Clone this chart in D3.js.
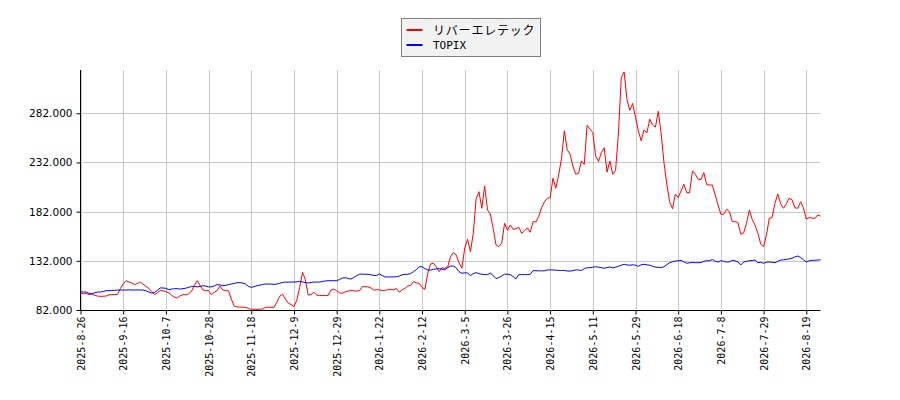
<!DOCTYPE html>
<html><head><meta charset="utf-8">
<script src="https://cdn.jsdelivr.net/npm/d3@7/dist/d3.min.js"></script>
<style>
html,body{margin:0;padding:0;background:#fff;}
svg{display:block;}
</style></head>
<body>
<svg id="chart" width="900" height="400"></svg>
<script>
const seriesNames = ["リバーエレテック", "TOPIX"];
const tickLabels = ["2025-8-26","2025-9-16","2025-10-7","2025-10-28","2025-11-18","2025-12-9","2025-12-29","2026-1-22","2026-2-12","2026-3-5","2026-3-26","2026-4-15","2026-5-11","2026-5-29","2026-6-18","2026-7-8","2026-7-29","2026-8-19"];
const tickIndex = [0,15,30,45,60,75,90,105,120,135,150,165,180,195,210,225,240,255];
const yTicks = [82,132,182,232,282];

const riverValues = [
99.3,98.5,98.8,97.6,98.3,96.8,96.2,95.8,96.0,96.2,
97.4,97.6,97.6,97.8,103.7,108.5,111.8,110.5,109.5,107.8,
109.0,110.5,108.2,106.0,103.7,101.0,97.6,99.5,101.7,101.5,
100.6,99.5,97.0,95.0,94.2,96.5,97.6,97.4,98.5,101.0,
107.0,111.8,107.0,102.5,101.7,101.7,97.6,100.0,101.7,106.4,
102.5,101.7,101.5,93.0,86.0,85.0,85.0,84.8,84.7,83.5,
82.7,82.8,82.5,82.8,83.0,84.7,84.8,84.7,84.8,90.0,
96.0,98.0,93.0,89.0,87.5,85.4,92.0,105.0,120.3,113.0,
97.2,97.8,100.0,97.2,96.6,96.8,96.6,96.8,102.3,103.3,
101.5,99.5,99.0,100.5,101.0,102.0,101.5,101.3,101.5,105.7,
105.7,105.5,104.5,102.3,102.6,102.6,101.8,102.0,102.6,103.0,
102.5,104.0,100.0,102.5,104.0,106.4,107.0,110.8,109.6,109.1,
105.0,103.0,119.0,128.8,129.5,126.0,121.0,125.0,124.4,125.4,
136.2,140.3,138.0,130.0,124.4,145.0,153.9,141.3,160.0,195.0,
202.3,185.4,208.1,183.7,179.6,165.0,148.0,146.4,150.0,170.2,
163.0,168.4,164.1,164.5,166.1,160.0,162.5,165.5,161.0,171.8,
171.5,177.0,186.0,192.0,195.6,196.0,215.9,205.7,219.3,236.0,
264.1,245.0,240.3,228.4,220.0,221.0,233.5,230.0,269.9,266.0,
262.4,238.6,233.0,242.0,247.0,222.3,233.5,220.0,224.0,262.0,
318.0,324.0,296.0,285.0,292.0,278.0,264.0,254.0,265.0,262.0,
276.0,270.0,268.0,284.0,262.0,232.0,210.0,192.0,185.0,199.7,
196.5,203.0,209.8,201.3,201.3,223.4,220.0,214.9,214.5,221.6,
209.5,209.1,209.0,199.0,188.8,179.3,179.3,184.4,182.0,171.8,
171.8,171.0,159.0,160.5,170.0,183.7,174.0,168.4,160.0,149.0,
146.4,158.0,175.3,176.0,190.5,200.0,190.0,185.4,190.0,195.6,
194.0,186.0,185.4,192.1,186.0,174.5,175.9,175.5,175.0,178.6,
177.5];

const topixValues = [
100.3,100.3,100.3,99.0,98.3,99.5,100.3,100.3,100.8,101.7,
101.7,101.7,102.0,102.3,102.3,102.3,102.3,102.5,102.3,102.3,
102.5,102.3,102.3,101.5,100.3,99.3,99.8,102.0,104.4,104.4,
104.0,102.7,103.2,103.7,103.7,103.3,103.7,104.2,105.0,106.0,
106.0,105.5,106.0,106.7,106.3,105.5,105.5,106.5,107.8,107.5,
106.7,107.0,107.8,108.5,109.0,109.8,109.8,109.4,108.4,106.0,
105.0,105.8,106.7,107.2,108.0,108.4,108.4,108.4,108.0,108.4,
109.2,110.0,110.4,110.2,110.4,110.4,110.6,111.1,110.5,109.8,
109.4,110.0,110.4,110.4,110.4,111.0,111.5,111.8,111.8,111.8,
111.8,113.0,114.5,114.9,114.0,113.5,115.0,116.8,118.3,118.5,
118.3,118.3,117.8,117.2,117.0,118.7,117.0,115.6,115.6,115.6,
115.6,115.8,116.5,117.8,118.3,118.3,119.0,121.0,123.0,126.0,
126.0,124.0,122.7,122.5,123.4,123.8,124.0,123.5,123.0,125.0,
126.7,126.7,125.0,121.0,119.3,119.8,119.6,117.0,119.0,120.0,
119.0,118.3,118.0,118.0,119.5,117.0,113.9,115.0,116.5,118.5,
118.3,118.0,116.0,113.6,118.0,118.0,118.0,118.0,118.3,122.0,
122.0,121.8,121.8,121.8,122.7,122.7,122.7,122.5,122.3,122.2,
122.2,121.6,121.6,122.0,122.7,122.7,122.2,124.0,125.0,125.0,
125.5,126.0,125.5,125.0,124.5,125.0,125.8,124.8,125.5,126.4,
127.5,128.5,127.8,127.5,128.0,127.5,126.4,128.0,128.5,128.0,
127.5,126.5,125.5,125.3,125.0,126.0,128.0,130.1,131.0,131.8,
132.0,132.5,131.0,129.5,130.0,130.3,130.1,130.1,130.3,131.5,
132.1,132.1,133.4,131.5,130.8,132.1,131.5,130.8,131.0,132.5,
132.0,130.8,127.8,130.8,131.5,132.1,132.3,132.8,130.1,130.5,
129.5,130.5,130.8,130.5,130.1,131.5,132.8,133.0,133.4,134.0,
134.6,136.0,136.9,135.5,133.0,130.8,132.0,132.5,132.5,132.8,
133.0];

(function () {
const svg = d3.select("#chart");
const pLeft = 80.5, pRight = 820.5, pTop = 70, pBottom = 310;

const x = d3.scaleLinear().domain([0, riverValues.length - 1]).range([pLeft, pRight]);
const y = d3.scaleLinear().domain([82, 326]).range([pBottom, pTop]);

// grid
const g = svg.append("g");
g.selectAll("line.vg").data(tickIndex).enter().append("line")
  .attr("x1", d => Math.round(x(d)) + 0.5).attr("x2", d => Math.round(x(d)) + 0.5)
  .attr("y1", pTop).attr("y2", pBottom)
  .attr("stroke", "#c8c8c8").attr("stroke-width", 1);
g.selectAll("line.hg").data(yTicks).enter().append("line")
  .attr("y1", d => Math.round(y(d)) + 0.5).attr("y2", d => Math.round(y(d)) + 0.5)
  .attr("x1", pLeft).attr("x2", pRight)
  .attr("stroke", "#c8c8c8").attr("stroke-width", 1);

// lines
const line = d3.line().x((d, i) => x(i)).y(d => y(d));
svg.append("path").datum(riverValues).attr("d", line)
  .attr("fill", "none").attr("stroke", "#ff0000").attr("stroke-width", 1);
svg.append("path").datum(topixValues).attr("d", line)
  .attr("fill", "none").attr("stroke", "#0000ff").attr("stroke-width", 1);

// axes
const yAxis = d3.axisLeft(y).tickValues(yTicks).tickSize(4).tickPadding(4)
  .tickFormat(d => d3.format(".3f")(d));
const ya = svg.append("g").attr("transform", `translate(${pLeft},0)`).call(yAxis);
ya.select(".domain").attr("d", `M0,${pTop}V${pBottom + 0.5}`).attr("stroke", "#000");
ya.selectAll("text").attr("font-family", "DejaVu Sans").attr("font-size", "10.5px").attr("fill", "#000");

const xAxis = d3.axisBottom(x).tickValues(tickIndex).tickSize(4)
  .tickFormat((d, i) => tickLabels[i]);
const xa = svg.append("g").attr("transform", `translate(0,${pBottom + 0.5})`).call(xAxis);
xa.select(".domain").attr("d", `M${pLeft},0H${pRight}`).attr("stroke", "#000");
xa.selectAll("text")
  .attr("font-family", "DejaVu Sans Mono").attr("font-size", "10px").attr("fill", "#000")
  .attr("text-anchor", "end").attr("transform", "rotate(-90)")
  .attr("x", -6).attr("y", 0).attr("dy", "0.35em");

// legend
const lg = svg.append("g");
lg.append("rect").attr("x", 401.5).attr("y", 18.5).attr("width", 139).attr("height", 38)
  .attr("fill", "#f2f2f2").attr("stroke", "#808080").attr("stroke-width", 1);
const colors = ["#ff0000", "#0000ff"];
seriesNames.forEach((name, i) => {
  const yy = 30 + i * 15;
  lg.append("line").attr("x1", 406.5).attr("x2", 422.5).attr("y1", yy).attr("y2", yy)
    .attr("stroke", colors[i]).attr("stroke-width", 2);
  lg.append("text").attr("x", 433).attr("y", yy).attr("dy", "0.38em")
    .attr("font-family", i === 0 ? "Noto Sans CJK JP" : "DejaVu Sans Mono")
    .attr("font-size", i === 0 ? "12px" : "11px")
    .attr("letter-spacing", i === 0 ? "0.8px" : "0px")
    .attr("fill", "#000").text(name);
});
})();
</script>
</body></html>
